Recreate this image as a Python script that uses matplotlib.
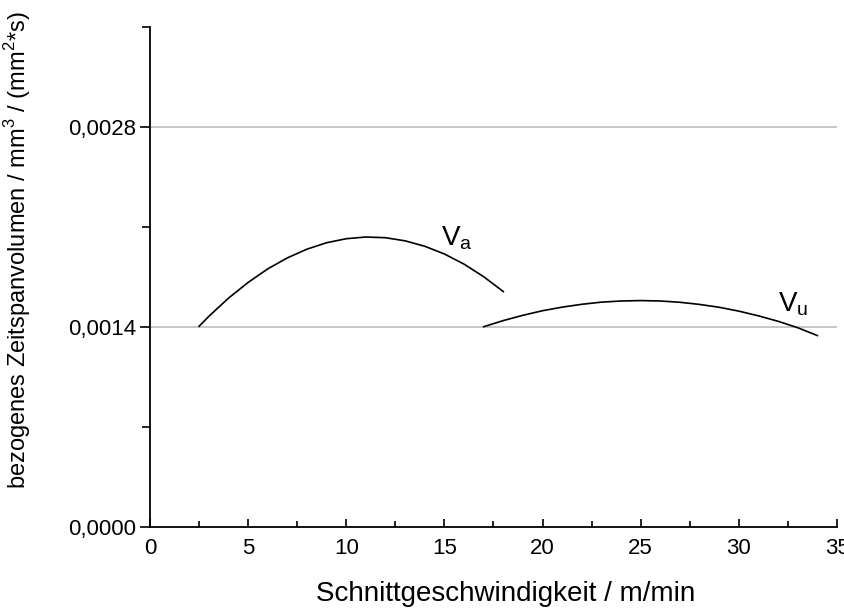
import matplotlib
matplotlib.use("Agg")
import matplotlib.pyplot as plt
from matplotlib.ticker import MultipleLocator, FuncFormatter

plt.rcParams['font.family'] = ['Liberation Sans', 'DejaVu Sans']
plt.rcParams['mathtext.fontset'] = 'custom'
plt.rcParams['mathtext.rm'] = 'Liberation Sans'

# Werte
v_a_x = [2.5, 3, 4, 5, 6, 7, 8, 9, 10, 11, 12, 13, 14, 15, 16, 17, 18]
v_a_y = [0.001405, 0.001475, 0.001602, 0.001712, 0.001807, 0.001884, 0.001945,
         0.001990, 0.002018, 0.002030, 0.002025, 0.002003, 0.001965, 0.001911,
         0.001840, 0.001752, 0.001648]

v_u_x = [17, 18, 19, 20, 21, 22, 23, 24, 25, 26, 27, 28, 29, 30, 31, 32, 33, 34]
v_u_y = [0.001402, 0.001445, 0.001482, 0.001514, 0.001539, 0.001559, 0.001574,
         0.001582, 0.001585, 0.001582, 0.001573, 0.001558, 0.001538, 0.001511,
         0.001478, 0.001440, 0.001395, 0.001340]

fig = plt.figure(figsize=(8.45, 6.1), dpi=100)
ax = fig.add_axes([150/845, 1 - 527/610, 687/845, 500/610])

for yv in [0.0014, 0.0028]:
    ax.axhline(yv, color='#bdbdbd', lw=1.2, zorder=0)

ax.plot(v_a_x, v_a_y, color='black', lw=1.2)
ax.plot(v_u_x, v_u_y, color='black', lw=1.2)

ax.text(14.8, 0.00197, r'V$_\mathregular{a}$', fontsize=20)
ax.text(32.0, 0.00151, r'V$_\mathregular{u}$', fontsize=20)

ax.set_xlim(0, 35)
ax.set_ylim(0, 0.0035)

ax.spines['top'].set_visible(False)
ax.spines['right'].set_visible(False)
ax.spines['left'].set_linewidth(1.3)
ax.spines['bottom'].set_linewidth(1.3)

ax.xaxis.set_major_locator(MultipleLocator(5))
ax.xaxis.set_minor_locator(MultipleLocator(2.5))
ax.yaxis.set_major_locator(MultipleLocator(0.0014))
ax.yaxis.set_minor_locator(MultipleLocator(0.0007))
ax.yaxis.set_major_formatter(FuncFormatter(lambda v, p: f'{v:.4f}'.replace('.', ',')))

ax.tick_params(axis='x', which='major', direction='in', length=6, width=1.2, labelsize=16, pad=8)
ax.tick_params(axis='x', which='minor', direction='in', length=4, width=1.2)
ax.tick_params(axis='y', which='major', direction='out', length=7, width=1.2, labelsize=16, pad=3)
ax.tick_params(axis='y', which='minor', direction='out', length=6, width=1.2)

ax.set_xlabel('Schnittgeschwindigkeit / m/min', fontsize=20)
ax.set_ylabel(r'bezogenes Zeitspanvolumen / mm$^\mathregular{3}$ / (mm$^\mathregular{2}$*s)',
              fontsize=17)
ax.xaxis.set_label_coords(0.517, -0.108)
ax.yaxis.set_label_coords(-0.170, 0.554)

plt.savefig('out.png', dpi=100)
